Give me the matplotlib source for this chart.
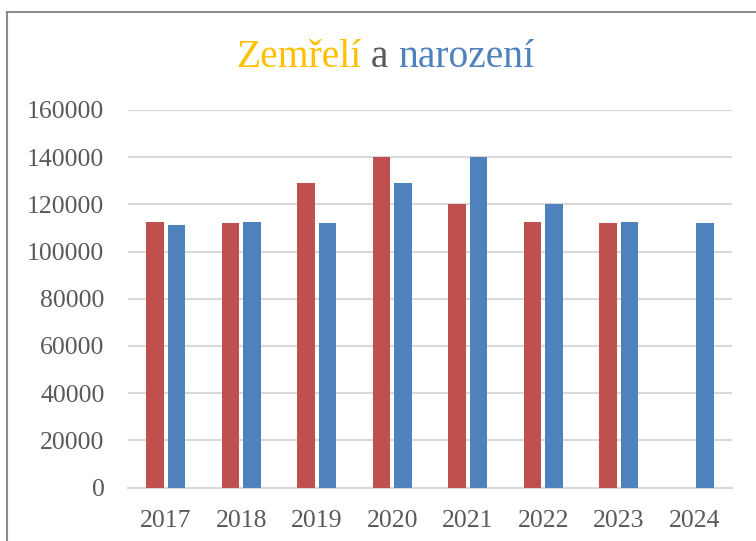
import matplotlib.pyplot as plt
import matplotlib.patches as mpatches
import numpy as np

years = ['2017', '2018', '2019', '2020', '2021', '2022', '2023', '2024']
zemreli = [112700, 112200, 129200, 140000, 120000, 112700, 112200, 0]
narozeni = [111400, 112700, 112200, 129200, 140000, 120000, 112700, 112200]

red = '#C0504D'
blue = '#4F81BD'
gold = '#FFC000'
txt = '#595959'
font = 'Liberation Serif'

fig = plt.figure(figsize=(7.56, 5.41), dpi=100)
ax = fig.add_axes([128 / 756, 1 - 487.5 / 541, 604 / 756, 377.5 / 541])

x = np.arange(len(years))
w = 0.235
ax.bar(x - 0.142, zemreli, w, color=red, zorder=3)
ax.bar(x + 0.142, narozeni, w, color=blue, zorder=3)

ax.set_xlim(-0.5, len(years) - 0.5)
ax.set_ylim(0, 160000)
ax.set_yticks(np.arange(0, 160001, 20000))
ax.set_xticks(x)
ax.set_xticklabels(years)
ax.grid(axis='y', color='#D9D9D9', linewidth=1.5, zorder=0)
for s in ['top', 'right', 'left']:
    ax.spines[s].set_visible(False)
ax.spines['bottom'].set_color('#D9D9D9')
ax.spines['bottom'].set_linewidth(1.5)
ax.tick_params(length=0, colors=txt, labelsize=18.5)
ax.tick_params(axis='x', pad=16)
ax.tick_params(axis='y', pad=17)
for lab in ax.get_xticklabels() + ax.get_yticklabels():
    lab.set_fontfamily(font)

# outer border of the chart
fig.patches.append(mpatches.Rectangle((6.5 / 756, -0.05), 1.2, 1 - 12.5 / 541 + 0.05,
                                      transform=fig.transFigure, fill=False,
                                      edgecolor='#8C8C8C', linewidth=1.5))

# title in three colours
parts = [('Zemřelí', gold), (' a ', txt), ('narození', blue)]
fig.canvas.draw()
r = fig.canvas.get_renderer()
texts = []
for s, c in parts:
    t = fig.text(0, 1 - 67 / 541, s, color=c, fontsize=28.5, family=font, va='baseline')
    texts.append(t)
widths = [t.get_window_extent(r).width for t in texts]
x0 = 385 - sum(widths) / 2
for t, wd in zip(texts, widths):
    t.set_x(x0 / 756)
    x0 += wd

fig.savefig('out.png', dpi=100)
